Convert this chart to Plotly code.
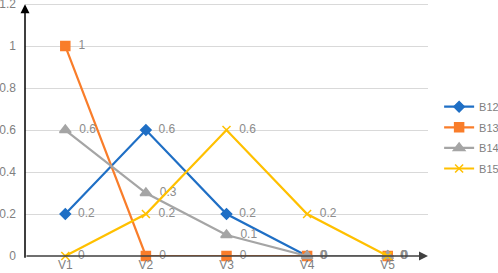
import plotly.graph_objects as go

categories = ["V1", "V2", "V3", "V4", "V5"]
b12 = [0.2, 0.6, 0.2, 0, 0]
b13 = [1, 0, 0, 0, 0]
b14 = [0.6, 0.3, 0.1, 0, 0]
b15 = [0, 0.2, 0.6, 0.2, 0]
y_ticks = [0, 0.2, 0.4, 0.6, 0.8, 1, 1.2]
y_tick_labels = ["0", "0.2", "0.4", "0.6", "0.8", "1", "1.2"]

series = [
    ("B12", b12, "#1f6fc5", "diamond", 8),
    ("B13", b13, "#f97d2a", "square", 9),
    ("B14", b14, "#a5a5a5", "triangle-up", 10),
    ("B15", b15, "#ffc000", "x-thin-open", 8),
]

W, H = 498, 273
ML, MR, MT, MB = 25, 70, 1, 17
PW, PH = W - ML - MR, H - MT - MB

fig = go.Figure()
for name, vals, color, sym, size in series:
    fig.add_trace(go.Scatter(
        x=categories, y=vals, name=name, legendgroup=name,
        mode="lines+markers+text",
        line=dict(color=color, width=2.2),
        marker=dict(symbol=sym, size=size, color=color, line=dict(color=color, width=1.5)),
        text=["  " + (f"{v:g}") for v in vals], textposition="middle right",
        textfont=dict(color="#8c8c8c", size=12, family="Liberation Sans"),
        cliponaxis=False,
    ))

fig.update_layout(
    width=W, height=H,
    margin=dict(l=ML, r=MR, t=MT, b=MB, autoexpand=False),
    plot_bgcolor="white", paper_bgcolor="white",
    font=dict(family="Liberation Sans", size=12, color="#7f7f7f"),
    showlegend=True,
    legend=dict(x=1.0276, y=0.464, xanchor="left", yanchor="middle",
                font=dict(size=11, color="#7f7f7f"), tracegroupgap=1.6,
                traceorder="grouped", itemwidth=30),
    xaxis=dict(type="category", range=[-0.5, 4.5], showgrid=False,
               showline=False, ticks="", zeroline=False, automargin=False,
               tickfont=dict(size=12, color="#7f7f7f")),
    yaxis=dict(range=[0, 1.215], tickvals=y_ticks, ticktext=y_tick_labels,
               showgrid=True, gridcolor="#d9d9d9", gridwidth=1,
               showline=False, zeroline=False, ticks="", automargin=False,
               ticklabelstandoff=8, ticklabeloverflow="allow",
               tickfont=dict(size=12, color="#7f7f7f")),
)

# axis arrows
fig.add_annotation(x=1, y=0, xref="paper", yref="y", ax=-PW, ay=0,
                   axref="pixel", ayref="pixel", showarrow=True,
                   arrowhead=2, arrowsize=1.2, arrowwidth=1.5, arrowcolor="#404040", text="")
fig.add_annotation(x=0, y=1.2, xref="paper", yref="y", ax=0, ay=PH,
                   axref="pixel", ayref="pixel", showarrow=True,
                   arrowhead=2, arrowsize=1.2, arrowwidth=1.5, arrowcolor="#000000", text="")

fig.write_html("out.html", config={"displayModeBar": False},
               post_script="document.body.style.margin='0';document.body.style.overflow='hidden';")
